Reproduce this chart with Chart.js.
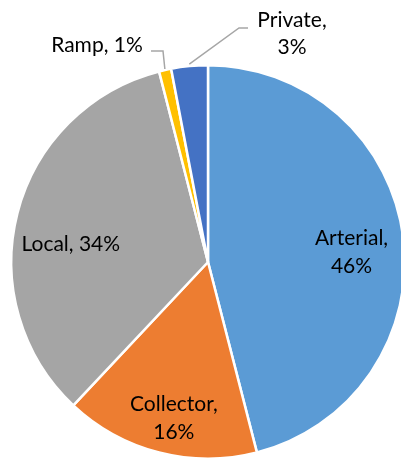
<!DOCTYPE html>
<html>
<head>
<meta charset="utf-8">
<script src="https://cdn.jsdelivr.net/npm/chart.js@4/dist/chart.umd.min.js"></script>
<style>
  html, body { margin: 0; padding: 0; background: #fff; overflow: hidden; }
  body { width: 401px; height: 460px; position: relative; }
  #pie { position: absolute; left: 0; top: 0; }
</style>
</head>
<body>
<canvas id="pie" width="416" height="524"></canvas>
<script>
// road classes, share of total (%)
const categorias = ['Arterial', 'Collector', 'Local', 'Ramp', 'Private'];
const valores = [46, 16, 34, 1, 3];
const cores = ['#5B9BD5', '#ED7D31', '#A5A5A5', '#FFC000', '#4472C4'];

const fonte = '21px Lato, "Open Sans", sans-serif';

// labels: inside ones follow the slice centre, outside ones get a leader line
const rotulosPlugin = {
    id: 'rotulos',
    afterDatasetsDraw(chart) {
        const ctx = chart.ctx;
        const arcs = chart.getDatasetMeta(0).data;
        ctx.save();
        ctx.font = fonte;
        ctx.fillStyle = '#000';
        ctx.textAlign = 'center';
        ctx.textBaseline = 'middle';

        // [raio relativo, desvio x, desvio y]
        const dentro = { 0: [0.73, 1, 8], 1: [0.80, 5, 4], 2: [0.72, 0, 17] };
        const linhas = {
            0: ['Arterial,', '46%'],
            1: ['Collector,', '16%'],
            2: ['Local, 34%']
        };
        Object.keys(dentro).forEach(function (i) {
            const a = arcs[i];
            const meio = (a.startAngle + a.endAngle) / 2;
            const r = a.outerRadius * dentro[i][0];
            const x = a.x + Math.cos(meio) * r + dentro[i][1];
            const y = a.y + Math.sin(meio) * r + dentro[i][2];
            const ls = linhas[i];
            ls.forEach(function (t, k) {
                ctx.fillText(t, x, y + (k - (ls.length - 1) / 2) * 28);
            });
        });

        ctx.strokeStyle = '#A6A6A6';
        ctx.lineWidth = 1.5;

        // Ramp
        let a = arcs[3];
        let meio = (a.startAngle + a.endAngle) / 2;
        let px = a.x + Math.cos(meio) * (a.outerRadius + 1);
        let py = a.y + Math.sin(meio) * (a.outerRadius + 1);
        ctx.beginPath();
        ctx.moveTo(151, 51);
        ctx.lineTo(163, 51);
        ctx.lineTo(px, py);
        ctx.stroke();
        ctx.fillText('Ramp, 1%', 97, 45);

        // Private
        a = arcs[4];
        meio = (a.startAngle + a.endAngle) / 2;
        px = a.x + Math.cos(meio) * (a.outerRadius + 2);
        py = a.y + Math.sin(meio) * (a.outerRadius + 2);
        ctx.beginPath();
        ctx.moveTo(248, 28);
        ctx.lineTo(239, 28);
        ctx.lineTo(px, py);
        ctx.stroke();
        ctx.fillText('Private,', 292, 20);
        ctx.fillText('3%', 292, 47);
        ctx.restore();
    }
};

new Chart(document.getElementById('pie').getContext('2d'), {
    type: 'pie',
    data: {
        labels: categorias,
        datasets: [{
            data: valores,
            backgroundColor: cores,
            borderColor: '#fff',
            borderWidth: 2.5
        }]
    },
    options: {
        responsive: false,
        animation: false,
        layout: { padding: { left: 10, right: 10, top: 64, bottom: 64 } },
        plugins: {
            legend: { display: false },
            tooltip: { enabled: false }
        }
    },
    plugins: [rotulosPlugin]
});
</script>
</body>
</html>
